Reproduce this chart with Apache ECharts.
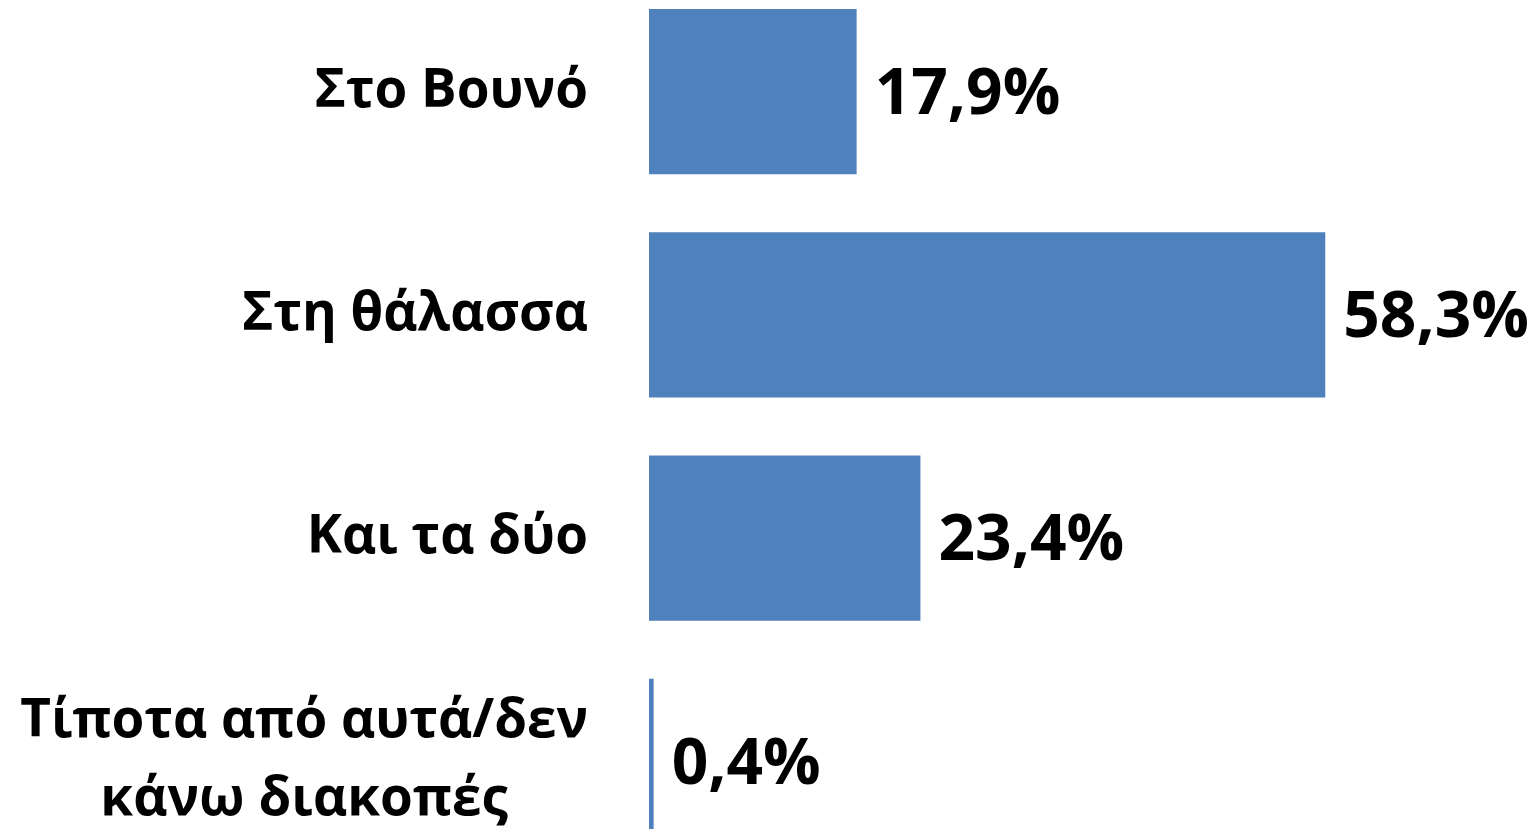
<!DOCTYPE html>
<html>
<head>
<meta charset="utf-8">
<script src="https://cdn.jsdelivr.net/npm/echarts@6/dist/echarts.min.js"></script>
<style>
  * { margin: 0; padding: 0; }
  html, body { background: #fff; }
</style>
</head>
<body>
<!--chart container-->
<div id="main" style="width:1533px;height:829px;background:white;"></div>
<script>
var categories = ["Στο Βουνό", "Στη θάλασσα", "Και τα δύο", "Τίποτα από αυτά/δεν\nκάνω διακοπές"];
var values = [17.9, 58.3, 23.4, 0.4];

var chart = echarts.init(document.getElementById("main"));
chart.setOption({
  animation: false,
  grid: {
    left: 649,
    right: 188,
    top: -20,
    bottom: -44,
    outerBoundsMode: "none",
    containLabel: false
  },
  xAxis: {
    type: "value",
    min: 0,
    max: 60,
    show: false
  },
  yAxis: {
    type: "category",
    inverse: true,
    data: categories,
    axisLine: { show: false },
    axisTick: { show: false },
    splitLine: { show: false },
    axisLabel: {
      margin: 61,
      align: "right",
      // each line centred inside the label block
      formatter: function (v) {
        return v.split("\n").map(function (s) { return "{c|" + s + "}"; }).join("\n");
      },
      rich: {
        c: {
          align: "center",
          fontFamily: "Open Sans",
          fontWeight: "bold",
          fontSize: 53,
          lineHeight: 78,
          color: "#000"
        }
      }
    }
  },
  series: [
    {
      type: "bar",
      data: values,
      barCategoryGap: "26%",
      itemStyle: { color: "#4F81BD" },
      label: {
        show: true,
        position: "right",
        distance: 18,
        offset: [0, 4],
        formatter: function (p) {
          return p.value.toFixed(1).replace(".", ",") + "%";
        },
        fontFamily: "Open Sans",
        fontWeight: "bold",
        fontSize: 64,
        color: "#000"
      }
    }
  ]
});
</script>
</body>
</html>
